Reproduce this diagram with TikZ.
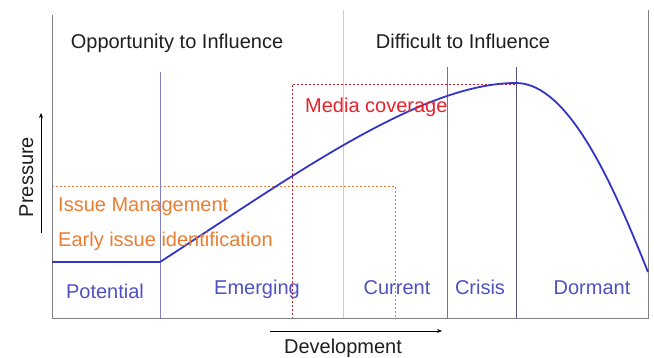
\documentclass[tikz,border=0pt]{standalone}
\usepackage{fontspec}
\setmainfont{Liberation Sans}
\usetikzlibrary{arrows.meta}
\definecolor{curveblue}{RGB}{52,52,200}
\definecolor{lblblue}{RGB}{80,80,195}
\definecolor{issueorange}{RGB}{235,125,50}
\definecolor{mediared}{RGB}{230,35,45}
\definecolor{axisgray}{RGB}{128,128,128}
\tikzset{
  txt/.style={font=\fontsize{20}{24}\selectfont, inner sep=0pt, anchor=base},
  stage/.style={txt, text=lblblue},
  orangedash/.style={draw=issueorange, line width=0.8pt, dash pattern=on 2pt off 2pt},
  reddash/.style={draw=mediared!85!black, line width=0.8pt, dash pattern=on 2pt off 2pt},
  divider/.style={line width=1pt},
}
\begin{document}
\begin{tikzpicture}[x=1pt,y=-1pt]
\useasboundingbox (0,0) rectangle (654,358);
% coordinates
\coordinate (axTop) at (52,15);
\coordinate (origin) at (52,319);
\coordinate (axRight) at (648,319);
\coordinate (rTop) at (648,10);
\coordinate (potL) at (52,262);
\coordinate (potR) at (160,262);
\coordinate (peak) at (516,83);
\coordinate (endC) at (648,272);
% dashed frames
\draw[orangedash] (52,186) coordinate (oTL) -- (395,186) coordinate (oTR) -- (395,319) coordinate (oBR);
\draw[reddash] (292,319) coordinate (rBL) -- (292,84) coordinate (rTL) -- (516,84) coordinate (rTR);
% dividers
\draw[divider, draw={rgb,255:red,128;green,128;blue,195}] (160,72) coordinate (d1t) -- (160,319) coordinate (d1b);
\draw[divider, draw={rgb,255:red,200;green,200;blue,232}] (343,10) coordinate (d2t) -- (343,319) coordinate (d2b);
\draw[divider, draw={rgb,255:red,112;green,112;blue,160}] (447,67) coordinate (d3t) -- (447,319) coordinate (d3b);
\draw[divider, draw={rgb,255:red,85;green,85;blue,136}] (516,67) coordinate (d4t) -- (516,319) coordinate (d4b);
% axes
\draw[axisgray, line width=1pt] (axTop) -- (origin) -- (axRight) -- (rTop);
% curve
\draw[curveblue, line width=1.8pt] (potL) -- (potR) .. controls (290,178) and (420,83) .. (peak)
  .. controls (570,83) and (615,190) .. (endC);
% axis arrows
\coordinate (pA) at (41,233);
\coordinate (pB) at (41,113);
\draw[-{Stealth[length=5pt,width=4pt]}, line width=0.7pt] (pA) -- (pB);
\coordinate (dA) at (270,331);
\coordinate (dB) at (442,331);
\draw[-{Stealth[length=5pt,width=4pt]}, line width=0.7pt] (dA) -- (dB);
% texts
\node[txt, text={rgb,255:red,30;green,30;blue,30}] (opp) at (177,49) {Opportunity to Influence};
\node[txt, text={rgb,255:red,30;green,30;blue,30}] (diff) at (463,49) {Difficult to Influence};
\node[txt, text=mediared, anchor=base west] (media) at (305,113) {Media coverage};
\node[txt, text=issueorange, anchor=base west] (issue) at (58,212) {Issue Management};
\node[txt, text=issueorange, anchor=base west] (early) at (58,247) {Early issue identification};
\node[stage] (pot) at (105,299) {Potential};
\node[stage] (emg) at (257,295) {Emerging};
\node[stage] (cur) at (397,295) {Current};
\node[stage] (cri) at (480,295) {Crisis};
\node[stage] (dor) at (592,295) {Dormant};
\node[txt, text={rgb,255:red,30;green,30;blue,30}] (dev) at (343,353) {Development};
\node[txt, text={rgb,255:red,30;green,30;blue,30}, rotate=90] (press) at (33,177) {Pressure};
\end{tikzpicture}
\end{document}
